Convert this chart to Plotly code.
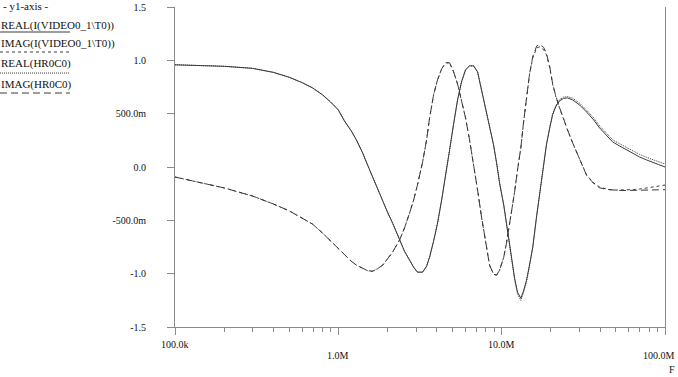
import plotly.graph_objects as go
import math

# ---------------- data ----------------
freq_hz = [1.00e5, 1.49e5, 2.01e5, 2.98e5, 4.01e5, 5.03e5, 6.04e5, 6.95e5, 8.01e5, 8.96e5,
           1.00e6, 1.09e6, 1.20e6, 1.29e6, 1.41e6, 1.51e6, 1.62e6, 1.74e6, 1.87e6, 2.00e6,
           2.15e6, 2.37e6, 2.54e6, 2.73e6, 2.89e6, 3.05e6, 3.28e6, 3.47e6, 3.62e6, 3.83e6,
           4.05e6, 4.29e6, 4.54e6, 4.80e6, 5.08e6, 5.37e6, 5.68e6, 6.01e6, 6.36e6, 6.73e6,
           7.12e6, 7.53e6, 7.97e6, 8.43e6, 8.92e6, 9.31e6, 9.71e6, 1.03e7, 1.07e7, 1.13e7,
           1.20e7, 1.25e7, 1.31e7, 1.36e7, 1.42e7, 1.48e7, 1.55e7, 1.64e7, 1.71e7, 1.81e7,
           1.88e7, 1.97e7, 2.05e7, 2.14e7, 2.26e7, 2.39e7, 2.53e7, 2.72e7, 3.00e7, 3.31e7,
           3.66e7, 3.98e7, 4.39e7, 4.78e7, 5.27e7, 5.82e7, 6.42e7, 6.99e7, 7.72e7, 8.40e7,
           9.14e7, 1.00e8]

real_video = [0.958, 0.953, 0.944, 0.925, 0.887, 0.840, 0.789, 0.742, 0.676, 0.610,
              0.535, 0.432, 0.338, 0.254, 0.131, 0.019, -0.094, -0.207, -0.310, -0.423,
              -0.526, -0.685, -0.789, -0.873, -0.939, -0.986, -0.986, -0.930, -0.845, -0.695,
              -0.526, -0.310, -0.085, 0.160, 0.404, 0.629, 0.798, 0.911, 0.948, 0.948,
              0.892, 0.723, 0.554, 0.394, 0.207, 0.038, -0.150, -0.357, -0.526, -0.779,
              -1.042, -1.174, -1.230, -1.164, -1.061, -0.920, -0.751, -0.451, -0.244, 0.019,
              0.207, 0.366, 0.488, 0.563, 0.620, 0.643, 0.648, 0.629, 0.582, 0.516,
              0.441, 0.366, 0.300, 0.235, 0.197, 0.160, 0.122, 0.094, 0.066, 0.047,
              0.023, 0.000]

imag_video = [-0.094, -0.150, -0.197, -0.272, -0.347, -0.413, -0.479, -0.535, -0.620, -0.695,
              -0.770, -0.826, -0.883, -0.920, -0.948, -0.972, -0.977, -0.953, -0.920, -0.864,
              -0.798, -0.685, -0.573, -0.432, -0.310, -0.169, 0.047, 0.254, 0.460, 0.676,
              0.817, 0.920, 0.977, 0.977, 0.892, 0.779, 0.629, 0.460, 0.254, 0.038,
              -0.216, -0.469, -0.714, -0.920, -1.005, -1.014, -0.967, -0.845, -0.714, -0.498,
              -0.235, -0.028, 0.178, 0.413, 0.629, 0.864, 1.023, 1.117, 1.127, 1.099,
              1.052, 0.930, 0.779, 0.667, 0.554, 0.441, 0.347, 0.225, 0.066, -0.075,
              -0.150, -0.188, -0.207, -0.216, -0.216, -0.216, -0.211, -0.207, -0.197, -0.192,
              -0.183, -0.169]

real_hr = [0.958, 0.953, 0.944, 0.925, 0.887, 0.840, 0.789, 0.742, 0.676, 0.610,
           0.535, 0.432, 0.338, 0.254, 0.131, 0.019, -0.094, -0.207, -0.310, -0.423,
           -0.526, -0.685, -0.789, -0.873, -0.939, -0.986, -0.986, -0.930, -0.845, -0.695,
           -0.526, -0.310, -0.085, 0.160, 0.404, 0.629, 0.798, 0.911, 0.948, 0.948,
           0.892, 0.723, 0.554, 0.394, 0.207, 0.038, -0.150, -0.357, -0.530, -0.785,
           -1.055, -1.190, -1.250, -1.180, -1.075, -0.930, -0.755, -0.451, -0.240, 0.025,
           0.215, 0.375, 0.497, 0.573, 0.630, 0.655, 0.660, 0.645, 0.598, 0.533,
           0.460, 0.385, 0.320, 0.255, 0.218, 0.182, 0.146, 0.118, 0.090, 0.070,
           0.048, 0.028]

imag_hr = [-0.094, -0.150, -0.197, -0.272, -0.347, -0.413, -0.479, -0.535, -0.620, -0.695,
           -0.770, -0.826, -0.883, -0.920, -0.948, -0.972, -0.977, -0.953, -0.920, -0.864,
           -0.798, -0.685, -0.573, -0.432, -0.310, -0.169, 0.047, 0.254, 0.460, 0.676,
           0.817, 0.920, 0.977, 0.977, 0.892, 0.779, 0.629, 0.460, 0.254, 0.038,
           -0.216, -0.469, -0.714, -0.920, -1.005, -1.014, -0.967, -0.845, -0.714, -0.498,
           -0.235, -0.028, 0.178, 0.413, 0.629, 0.870, 1.035, 1.135, 1.150, 1.120,
           1.065, 0.940, 0.785, 0.672, 0.558, 0.445, 0.350, 0.227, 0.066, -0.078,
           -0.155, -0.195, -0.210, -0.218, -0.220, -0.220, -0.220, -0.220, -0.218, -0.216,
           -0.214, -0.212]

series_names = ["REAL(I(VIDEO0_1\\T0))", "IMAG(I(VIDEO0_1\\T0))", "REAL(HR0C0)", "IMAG(HR0C0)"]
series_values = [real_video, imag_video, real_hr, imag_hr]
series_dash = ["solid", "3px,3px", "1px,1px", "7px,4px"]

x_tick_vals = [1e5, 1e6, 1e7, 1e8]
x_tick_text = ["100.0k", "1.0M", "10.0M", "100.0M"]
x_minor_vals = [m * 10 ** e for e in (5, 6, 7) for m in range(2, 10)]
y_tick_vals = [-1.5, -1.0, -0.5, 0.0, 0.5, 1.0, 1.5]
y_tick_text = ["-1.5", "-1.0", "-500.0m", "0.0", "500.0m", "1.0", "1.5"]
x_title = "F"
legend_title = "- y1-axis -"

# ---------------- layout geometry ----------------
W, H = 678, 377
L, R, T, B = 175, 13, 7, 50
PW, PH = W - L - R, H - T - B
LINE_COLOR = "#3a3a3a"
AXIS_COLOR = "#8a8a8a"
TEXT_COLOR = "#111111"
FONT = "Liberation Serif, Times New Roman, serif"


def px_x(px):
    return (px - L) / PW


def px_y(py):
    return (H - B - py) / PH


fig = go.Figure()
for name, vals, dash in zip(series_names, series_values, series_dash):
    fig.add_trace(go.Scatter(x=freq_hz, y=vals, mode="lines", name=name,
                             line=dict(color=LINE_COLOR, width=1, dash=dash),
                             showlegend=False))

annotations = []
shapes = []
# legend-like block at top-left
annotations.append(dict(text=legend_title, xref="paper", yref="paper",
                        x=px_x(1), y=px_y(6), xanchor="left", yanchor="middle",
                        showarrow=False, font=dict(size=11, color=TEXT_COLOR, family=FONT)))
text_y = [25, 44, 64, 84]
line_y = [32, 52, 73, 93]
for name, dash, ty, ly in zip(series_names, series_dash, text_y, line_y):
    annotations.append(dict(text=name, xref="paper", yref="paper",
                            x=px_x(-1), y=px_y(ty), xanchor="left", yanchor="middle",
                            showarrow=False, font=dict(size=11, color=TEXT_COLOR, family=FONT)))
    shapes.append(dict(type="line", xref="paper", yref="paper",
                       x0=px_x(0), x1=px_x(70), y0=px_y(ly), y1=px_y(ly),
                       line=dict(color=LINE_COLOR, width=1, dash=dash)))

# staggered x tick labels
n_lab = len(x_tick_vals)
for i, (v, t) in enumerate(zip(x_tick_vals, x_tick_text)):
    last = (i == n_lab - 1)
    annotations.append(dict(text=t, xref="x", yref="paper", x=math.log10(v), y=0,
                            xanchor="right" if last else "center", yanchor="middle",
                            xshift=12 if last else 0,
                            yshift=-(17 if i % 2 == 0 else 28),
                            showarrow=False, font=dict(size=10, color=TEXT_COLOR, family=FONT)))
annotations.append(dict(text=x_title, xref="paper", yref="paper", x=px_x(677), y=px_y(369),
                        xanchor="right", yanchor="middle", showarrow=False,
                        font=dict(size=10, color=TEXT_COLOR, family=FONT)))

fig.update_layout(
    width=W, height=H,
    margin=dict(l=L, r=R, t=T, b=B, autoexpand=False),
    paper_bgcolor="white", plot_bgcolor="white",
    font=dict(family=FONT, size=10, color=TEXT_COLOR),
    annotations=annotations, shapes=shapes,
    xaxis=dict(type="log", range=[5, 8], showgrid=False, zeroline=False, automargin=False,
               showline=True, linecolor=AXIS_COLOR, linewidth=1,
               tickmode="array", tickvals=x_tick_vals, showticklabels=False,
               ticks="outside", ticklen=7, tickcolor=AXIS_COLOR,
               minor=dict(tickmode="array", tickvals=x_minor_vals, ticks="outside",
                          ticklen=4, tickcolor=AXIS_COLOR, showgrid=False)),
    yaxis=dict(range=[-1.5, 1.5], showgrid=False, zeroline=False, automargin=False,
               showline=True, mirror=True, linecolor=AXIS_COLOR, linewidth=1,
               tickmode="array", tickvals=y_tick_vals, ticktext=y_tick_text,
               ticks="outside", ticklen=7, tickcolor=AXIS_COLOR,
               ticklabelstandoff=19, tickfont=dict(size=10, family=FONT, color=TEXT_COLOR)),
)

fig.write_html("out.html",
               config={"displayModeBar": False, "staticPlot": True},
               post_script="document.body.style.margin='0';document.body.style.overflow='hidden';")
